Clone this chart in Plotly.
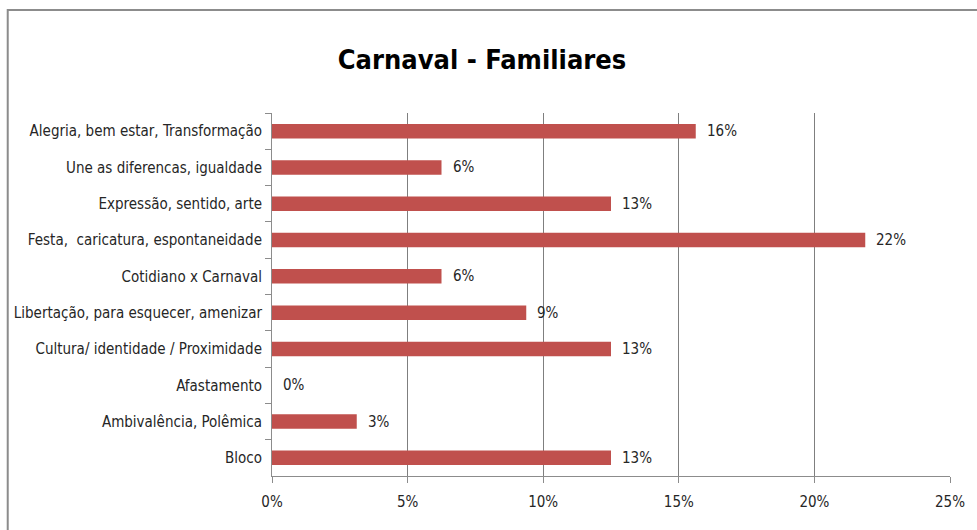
import plotly.graph_objects as go

categories = [
    "Alegria, bem estar, Transformação",
    "Une as diferencas, igualdade",
    "Expressão, sentido, arte",
    "Festa,  caricatura, espontaneidade",
    "Cotidiano x Carnaval",
    "Libertação, para esquecer, amenizar",
    "Cultura/ identidade / Proximidade",
    "Afastamento",
    "Ambivalência, Polêmica",
    "Bloco",
]
values = [0.15625, 0.0625, 0.125, 0.21875, 0.0625, 0.09375, 0.125, 0.0, 0.03125, 0.125]
labels = ["16%", "6%", "13%", "22%", "6%", "9%", "13%", "0%", "3%", "13%"]
x_ticks = [0, 0.05, 0.10, 0.15, 0.20, 0.25]
x_tick_text = ["0%", "5%", "10%", "15%", "20%", "25%"]

FONT = "DejaVu Sans Condensed, Liberation Sans Narrow, sans-serif"

fig = go.Figure(go.Bar(
    y=categories,
    x=values,
    orientation="h",
    marker=dict(color="#C0504D", line=dict(width=0)),
    width=0.4,
    hoverinfo="skip",
))

for c, v, t in zip(categories, values, labels):
    fig.add_annotation(
        x=v, y=c, xref="x", yref="y",
        text=t, showarrow=False,
        xanchor="left", yanchor="middle",
        xshift=9,
        font=dict(family=FONT, size=15, color="#262626"),
    )

L, R, T, B = 272, 20, 113, 54
W, H = 977, 530
pw, ph = W - L - R, H - T - B

fig.update_layout(
    width=W, height=H,
    margin=dict(l=L, r=R, t=T, b=B),
    paper_bgcolor="white",
    plot_bgcolor="white",
    showlegend=False,
    title=dict(
        text="<b>Carnaval - Familiares</b>",
        font=dict(family=FONT, size=27, color="black"),
        x=482 / W, xanchor="center",
        y=1 - 60 / H, yanchor="middle",
    ),
    xaxis=dict(
        range=[0, 0.25],
        tickvals=x_ticks,
        ticktext=x_tick_text,
        showgrid=True,
        gridcolor="#7f7f7f",
        gridwidth=1,
        zeroline=False,
        showline=True,
        linecolor="#8c8c8c",
        ticks="outside",
        ticklen=6,
        tickcolor="#8c8c8c",
        ticklabelstandoff=6,
        tickfont=dict(family=FONT, size=15, color="#262626"),
        fixedrange=True,
    ),
    yaxis=dict(
        autorange="reversed",
        showline=True,
        linecolor="#8c8c8c",
        ticks="outside",
        tickson="boundaries",
        ticklen=6,
        tickcolor="#8c8c8c",
        ticklabelstandoff=6,
        tickfont=dict(family=FONT, size=15, color="#262626"),
        showgrid=False,
        fixedrange=True,
    ),
    shapes=[
        dict(
            type="rect", xref="paper", yref="paper",
            x0=(5 - L) / pw, x1=(W + 20 - L) / pw,
            y0=-(B + 20) / ph, y1=1 + (T - 10) / ph,
            line=dict(color="#8c8c8c", width=2),
            fillcolor="rgba(0,0,0,0)",
            layer="below",
        )
    ],
)

fig.write_html("out.html")
